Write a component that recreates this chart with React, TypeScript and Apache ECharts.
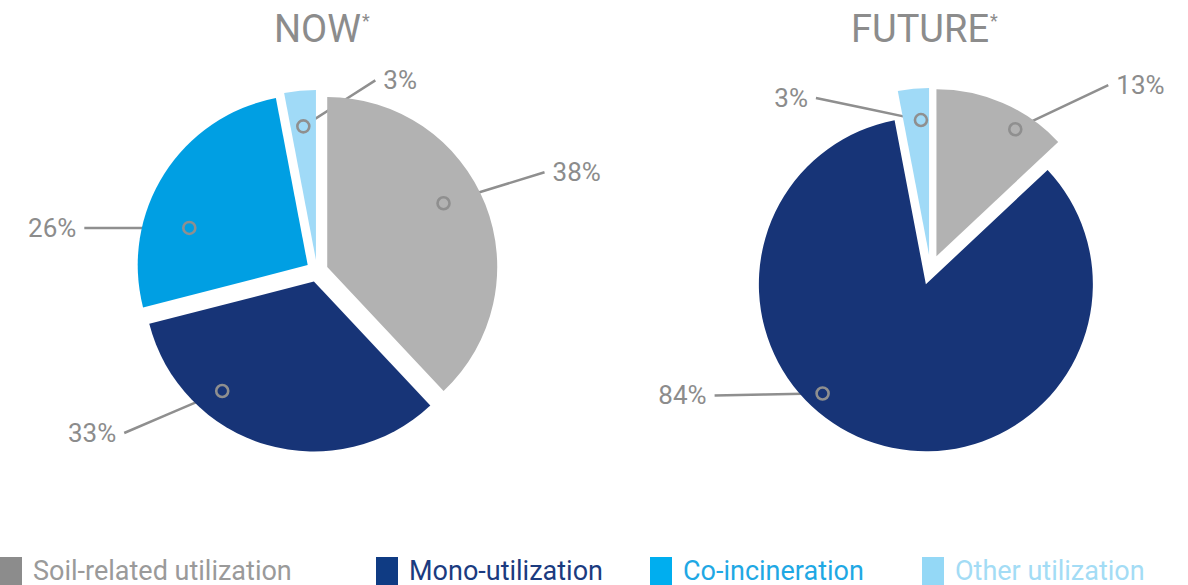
import React, { useEffect, useRef } from 'react';
import * as echarts from 'echarts';

// ---------- data ----------
const categories = ['Soil-related utilization', 'Mono-utilization', 'Co-incineration', 'Other utilization'];
const nowValues = [38, 33, 26, 3];
const futureValues = [13, 84, 0, 3];
const pieTitles = ['NOW', 'FUTURE'];

// ---------- style ----------
const FONT = 'Roboto, "Open Sans", sans-serif';
const sliceColors = ['#b2b2b2', '#173477', '#009fe3', '#a0daf7'];
const legendIconColors = ['#8c8c8c', '#0f3b83', '#00aeef', '#94d8f6'];
const legendTextColors = ['#9a9a9a', '#1b3b7f', '#1fa8e4', '#a3dcf5'];
const legendLeft = [0, 376, 650, 922];
const labelColor = '#8c8c8c';
const lineColor = '#8f8f8f';

const pieLayouts = [
  { cx: 317, cy: 271, r: 170, offset: 11, titleLeft: 274 },
  { cx: 930.5, cy: 270, r: 167, offset: 15, titleLeft: 851 },
];
// marker placement inside each slice: [fraction of slice angle, fraction of radius]
const nowMarkers = [[0.448, 0.78], [0.7, 0.84], [0.34, 0.73], [0.5, 0.79]];
const futureMarkers = [[0.68, 0.895], [0.584, 0.9], [0.5, 0.8], [0.68, 0.81]];
// leader line vector from marker to label
const nowLeaders = [[101, -31], [-98, 42], [-105, 0], [72, -46]];
const futureLeaders = [[93, -44], [-108, 2], [-100, 0], [-105, -22]];

type Item = { i: number; value: number; sx: number; sy: number; mx: number; my: number; lx: number; ly: number };

function buildPie(values: number[], layout: any, markers: number[][], leaders: number[][]): Item[] {
  const total = values.reduce((a, b) => a + b, 0);
  let acc = 0;
  const items: Item[] = [];
  values.forEach((v, i) => {
    if (v <= 0) return;
    const s = acc / total;
    acc += v;
    const e = acc / total;
    const mid = ((s + e) / 2) * 2 * Math.PI;
    const sx = layout.cx + layout.offset * Math.sin(mid);
    const sy = layout.cy - layout.offset * Math.cos(mid);
    const ma = (s + markers[i][0] * (e - s)) * 2 * Math.PI;
    const mr = markers[i][1] * layout.r;
    const mx = sx + mr * Math.sin(ma);
    const my = sy - mr * Math.cos(ma);
    items.push({ i, value: v, sx, sy, mx, my, lx: mx + leaders[i][0], ly: my + leaders[i][1] });
  });
  return items;
}

function buildSeries(values: number[], layout: any, markers: number[][], leaders: number[][]) {
  const items = buildPie(values, layout, markers, leaders);
  const series: any[] = [];
  items.forEach((it, k) => {
    series.push({
      type: 'pie',
      silent: true,
      clockwise: true,
      startAngle: 90,
      avoidLabelOverlap: false,
      center: [it.sx, it.sy],
      radius: layout.r,
      emphasis: { disabled: true },
      itemStyle: { borderWidth: 0 },
      label: {
        position: 'outside',
        formatter: '{c}%',
        fontFamily: FONT,
        fontSize: 26,
        color: labelColor,
      },
      labelLine: { show: true, lineStyle: { color: lineColor, width: 2.5 } },
      data: items.map((o, j) => ({
        name: categories[o.i],
        value: o.value,
        itemStyle: { color: j === k ? sliceColors[o.i] : 'rgba(0,0,0,0)' },
        label: { show: j === k },
        labelLine: { show: j === k },
      })),
      labelLayout: (p: any) => {
        const o = items[p.dataIndex];
        if (!o) return {};
        const dx = o.lx - o.mx;
        const dy = o.ly - o.my;
        const len = Math.sqrt(dx * dx + dy * dy) || 1;
        const left = dx < 0;
        const start = [o.mx + (dx / len) * 7, o.my + (dy / len) * 7];
        const mid = [(start[0] + o.lx) / 2, (start[1] + o.ly) / 2];
        return {
          x: o.lx + (left ? -8 : 8),
          y: o.ly,
          align: left ? 'right' : 'left',
          verticalAlign: 'middle',
          labelLinePoints: [start, mid, [o.lx, o.ly]],
        };
      },
    });
  });
  // markers
  series.push({
    type: 'pie',
    silent: true,
    clockwise: true,
    startAngle: 90,
    avoidLabelOverlap: false,
    center: [layout.cx, layout.cy],
    radius: layout.r,
    z: 5,
    emphasis: { disabled: true },
    itemStyle: { color: 'rgba(0,0,0,0)', borderWidth: 0 },
    label: {
      show: true,
      position: 'inside',
      formatter: '{m|}',
      rich: { m: { width: 12, height: 12, lineHeight: 12, borderRadius: 7, borderWidth: 2.6, borderColor: lineColor } },
    },
    labelLine: { show: false },
    data: items.map((o) => ({ name: categories[o.i], value: o.value })),
    labelLayout: (p: any) => {
      const o = items[p.dataIndex];
      if (!o) return {};
      return { x: o.mx, y: o.my, align: 'center', verticalAlign: 'middle' };
    },
  });
  return series;
}

export default function App() {
  const ref = useRef<HTMLDivElement>(null);
  useEffect(() => {
    if (!ref.current) return;
    const chart = echarts.init(ref.current, undefined, { renderer: 'svg' });
    const series = [
      ...buildSeries(nowValues, pieLayouts[0], nowMarkers, nowLeaders),
      ...buildSeries(futureValues, pieLayouts[1], futureMarkers, futureLeaders),
    ];
    chart.setOption({
      animation: false,
      backgroundColor: '#ffffff',
      title: pieTitles.map((t, i) => ({
        text: `{m|${t}}{s|*}`,
        left: pieLayouts[i].titleLeft,
        top: 10,
        padding: 0,
        textStyle: {
          rich: {
            m: { fontFamily: FONT, fontSize: 38, fontWeight: 'normal', color: labelColor },
            s: { fontFamily: FONT, fontSize: 18, fontWeight: 'normal', color: labelColor, padding: [0, 0, 18, 1] },
          },
        },
      })),
      legend: categories.map((name, i) => ({
        left: legendLeft[i],
        top: 557,
        padding: 0,
        itemWidth: 22,
        itemHeight: 28,
        icon: 'rect',
        selectedMode: false,
        data: [{ name, itemStyle: { color: legendIconColors[i] } }],
        textStyle: {
          fontFamily: FONT,
          fontSize: 27,
          lineHeight: 24,
          color: legendTextColors[i],
          padding: [0, 0, 0, 6],
        },
      })),
      series,
    });
    return () => chart.dispose();
  }, []);
  return <div ref={ref} style={{ position: 'absolute', left: 0, top: 0, width: 1188, height: 585 }} />;
}
